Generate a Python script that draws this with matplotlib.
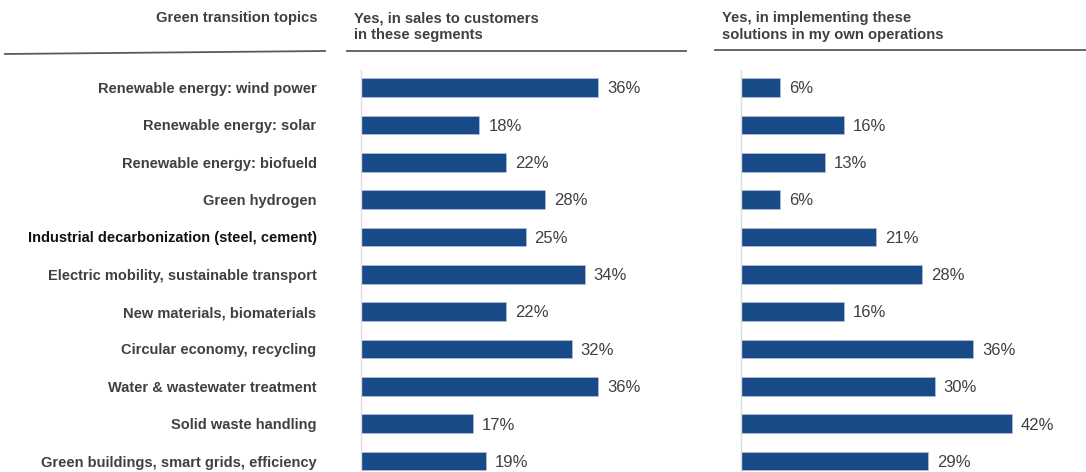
import matplotlib
matplotlib.use("Agg")
import matplotlib.pyplot as plt
from matplotlib.lines import Line2D

plt.rcParams['font.family'] = ['Liberation Sans', 'DejaVu Sans']

topics = [
    "Renewable energy: wind power",
    "Renewable energy: solar",
    "Renewable energy: biofueld",
    "Green hydrogen",
    "Industrial decarbonization (steel, cement)",
    "Electric mobility, sustainable transport",
    "New materials, biomaterials",
    "Circular economy, recycling",
    "Water & wastewater treatment",
    "Solid waste handling",
    "Green buildings, smart grids, efficiency",
]
sales = [36, 18, 22, 28, 25, 34, 22, 32, 36, 17, 19]
own_ops = [6, 16, 13, 6, 21, 28, 16, 36, 30, 42, 29]

header_topics = "Green transition topics"
header_sales = "Yes, in sales to customers\nin these segments"
header_ops = "Yes, in implementing these\nsolutions in my own operations"

BAR = "#174a87"
TEXT = "#404040"

W, H = 1086, 472
fig = plt.figure(figsize=(W / 100, H / 100), dpi=100)


def px_axes(x0, x1, y0, y1):
    # axes placed by pixel edges (y measured from the top)
    return fig.add_axes([x0 / W, 1 - y1 / H, (x1 - x0) / W, (y1 - y0) / H])


row_gap = 37.35
first_row = 87.5
top, bottom = 70, 472
ylim = ((bottom - first_row) / row_gap, (top - first_row) / row_gap)

ax1 = px_axes(361, 361 + 50 * 6.58, top, bottom)
ax2 = px_axes(741, 741 + 50 * 6.45, top, bottom)

y = list(range(len(topics)))
for ax, vals in [(ax1, sales), (ax2, own_ops)]:
    ax.barh(y, vals, height=0.5, color=BAR, edgecolor="#b8c0dc", linewidth=0.5)
    ax.set_xlim(0, 50)
    ax.set_ylim(*ylim)
    for s in ["top", "right", "bottom"]:
        ax.spines[s].set_visible(False)
    ax.spines["left"].set_color("#dcdcdc")
    ax.spines["left"].set_linewidth(1)
    ax.set_xticks([])
    ax.tick_params(axis="y", length=0)
    for yi, v in zip(y, vals):
        ax.annotate(f"{v}%", (v, yi), xytext=(6.5, -1), textcoords="offset points",
                    va="center", ha="left", fontsize=12, color=TEXT)

ax1.set_yticks(y)
ax1.set_yticklabels(topics, fontsize=10.5, fontweight="bold", color=TEXT)
ax1.tick_params(axis="y", pad=32)
ax1.get_yticklabels()[4].set_color("#111111")
ax2.set_yticks([])

# column headers
fig.text(317 / W, 1 - 18 / H, header_topics, ha="right", va="center",
         fontsize=10.6, fontweight="bold", color=TEXT)
fig.text(354 / W, 1 - 26.5 / H, header_sales, ha="left", va="center",
         fontsize=10.6, fontweight="bold", color=TEXT, linespacing=1.2)
fig.text(722 / W, 1 - 26.5 / H, header_ops, ha="left", va="center",
         fontsize=10.6, fontweight="bold", color=TEXT, linespacing=1.2)

for (xa, ya), (xb, yb) in [((5, 54), (325, 51)), ((347, 51), (686, 51)),
                           ((715, 50), (1086, 50))]:
    fig.add_artist(Line2D([xa / W, xb / W], [1 - ya / H, 1 - yb / H],
                          transform=fig.transFigure, color="#5a5a5a", lw=1.3))

fig.savefig("out.png", dpi=100)
